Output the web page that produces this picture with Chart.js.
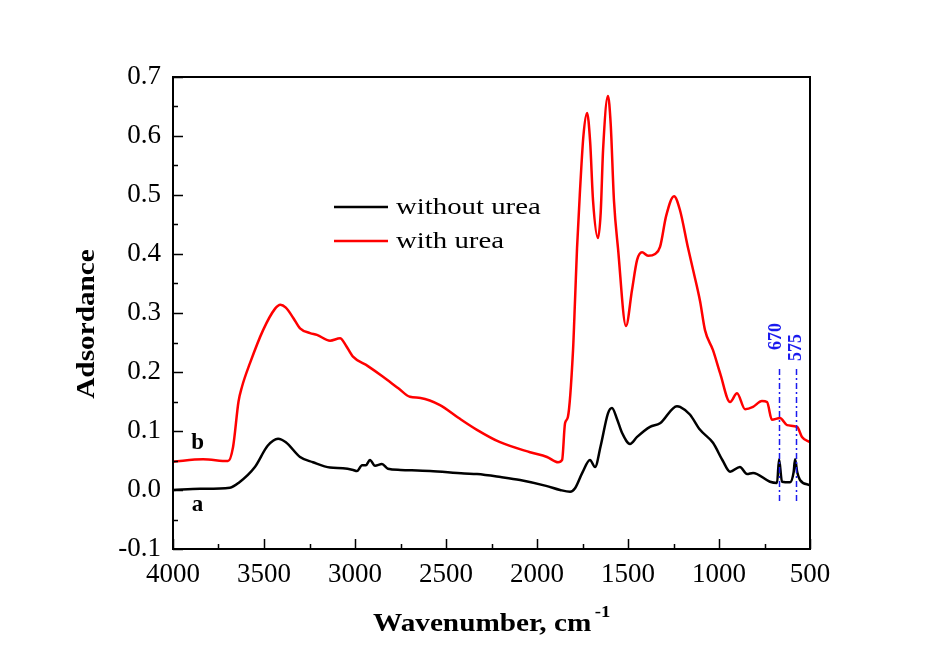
<!DOCTYPE html>
<html lang="en">
<head>
    <meta charset="UTF-8">
    <title>Adsordance vs Wavenumber</title>
    <script src="https://cdn.jsdelivr.net/npm/chart.js@4.4.1/dist/chart.umd.min.js"></script>
    <style>
        body {
            margin: 0;
            background-color: white;
        }
        canvas {
            display: block;
        }
    </style>
</head>
<body>
    <canvas id="irChart" width="926" height="652"></canvas>

    <script>
        // curve a: without urea
        const wnBlack = [4000, 3850, 3687, 3640, 3550, 3480, 3423, 3380, 3302, 3231, 3137, 3066, 3010, 2989, 2961, 2940, 2918, 2890, 2852, 2819, 2750, 2588, 2400, 2330, 2200, 2093, 1950, 1873, 1818, 1791, 1750, 1709, 1681, 1650, 1610, 1588, 1560, 1533, 1489, 1450, 1379, 1324, 1231, 1214, 1160, 1104, 1033, 980, 939, 885, 846, 813, 720, 681, 670, 654, 610, 590, 582, 570, 555, 500];
        const absBlack = [0.000, 0.002, 0.004, 0.012, 0.039, 0.075, 0.087, 0.081, 0.056, 0.047, 0.038, 0.037, 0.034, 0.032, 0.042, 0.042, 0.051, 0.041, 0.044, 0.036, 0.034, 0.032, 0.028, 0.027, 0.022, 0.017, 0.007, 0.000, -0.003, 0.003, 0.030, 0.051, 0.039, 0.075, 0.130, 0.139, 0.120, 0.097, 0.078, 0.090, 0.107, 0.113, 0.142, 0.141, 0.128, 0.102, 0.080, 0.050, 0.031, 0.039, 0.027, 0.029, 0.014, 0.012, 0.052, 0.014, 0.013, 0.030, 0.052, 0.030, 0.017, 0.008];

        // curve b: with urea
        const wnRed = [4000, 3835, 3698, 3670, 3640, 3621, 3577, 3505, 3440, 3410, 3380, 3340, 3302, 3247, 3209, 3137, 3082, 3050, 3011, 2929, 2846, 2760, 2698, 2640, 2533, 2430, 2330, 2203, 2038, 1945, 1884, 1862, 1846, 1830, 1802, 1791, 1780, 1765, 1745, 1725, 1708, 1692, 1665, 1650, 1637, 1610, 1595, 1577, 1555, 1511, 1478, 1450, 1423, 1390, 1351, 1324, 1290, 1247, 1215, 1170, 1140, 1104, 1077, 1033, 994, 939, 901, 857, 813, 764, 736, 709, 665, 626, 571, 544, 500];
        const absRed = [0.048, 0.052, 0.049, 0.073, 0.150, 0.175, 0.215, 0.271, 0.307, 0.314, 0.309, 0.292, 0.274, 0.266, 0.263, 0.253, 0.257, 0.245, 0.226, 0.210, 0.192, 0.172, 0.158, 0.156, 0.144, 0.122, 0.102, 0.081, 0.064, 0.056, 0.047, 0.051, 0.113, 0.124, 0.237, 0.322, 0.410, 0.500, 0.600, 0.639, 0.590, 0.490, 0.427, 0.470, 0.576, 0.668, 0.620, 0.490, 0.410, 0.278, 0.339, 0.390, 0.403, 0.397, 0.400, 0.412, 0.465, 0.498, 0.475, 0.410, 0.370, 0.320, 0.271, 0.237, 0.198, 0.149, 0.164, 0.137, 0.141, 0.151, 0.149, 0.119, 0.122, 0.110, 0.107, 0.090, 0.081];

        const seriesNames = ['without urea', 'with urea'];
        const seriesColors = ['#000000', '#ff0000'];

        const xTicks = [4000, 3500, 3000, 2500, 2000, 1500, 1000, 500];
        const yTicks = [-0.1, 0.0, 0.1, 0.2, 0.3, 0.4, 0.5, 0.6, 0.7];

        // marked peaks
        const peakWn = [670, 575];
        const peakLabels = ['670', '575'];
        const peakTop = 0.205;
        const peakBottom = -0.02;

        // curve letters
        const curveLetters = ['a', 'b'];
        const letterWn = [3865, 3865];
        const letterAbs = [-0.025, 0.080];

        const serif = "'Liberation Serif', 'DejaVu Serif', serif";
        const blue = '#1a1aee';

        function stretchText(ctx, text, x, y, sx) {
            ctx.save();
            ctx.translate(x, y);
            ctx.scale(sx, 1);
            ctx.fillText(text, 0, 0);
            ctx.restore();
        }

        const decorPlugin = {
            id: 'decor',
            afterDatasetsDraw(chart) {
                const ctx = chart.ctx;
                const xs = chart.scales.x;
                const ys = chart.scales.y;

                // dash-dot peak markers
                ctx.save();
                ctx.strokeStyle = blue;
                ctx.lineWidth = 1.5;
                ctx.setLineDash([6, 3, 2, 3]);
                peakWn.forEach(w => {
                    const px = Math.round(xs.getPixelForValue(w)) + 0.5;
                    ctx.beginPath();
                    ctx.moveTo(px, ys.getPixelForValue(peakTop));
                    ctx.lineTo(px, ys.getPixelForValue(peakBottom));
                    ctx.stroke();
                });
                ctx.setLineDash([]);
                ctx.fillStyle = blue;
                ctx.font = 'bold 18px ' + serif;
                ctx.textAlign = 'left';
                ctx.textBaseline = 'middle';
                peakWn.forEach((w, i) => {
                    const px = xs.getPixelForValue(w);
                    const bottom = ys.getPixelForValue(peakTop) - (i === 0 ? 19 : 8);
                    ctx.save();
                    ctx.translate(px - (i === 0 ? 3 : 0), bottom);
                    ctx.rotate(-Math.PI / 2);
                    ctx.fillText(peakLabels[i], 0, 0);
                    ctx.restore();
                });
                ctx.restore();
            },
            afterDraw(chart) {
                const ctx = chart.ctx;
                const area = chart.chartArea;
                const xs = chart.scales.x;
                const ys = chart.scales.y;

                ctx.save();
                // frame
                ctx.strokeStyle = '#000';
                ctx.lineWidth = 2;
                ctx.strokeRect(area.left, area.top, area.right - area.left, area.bottom - area.top);

                // inward ticks
                ctx.lineWidth = 1.5;
                ctx.beginPath();
                for (let w = 500; w <= 4000; w += 250) {
                    const px = Math.round(xs.getPixelForValue(w)) + 0.5;
                    const len = (w % 500 === 0) ? 10 : 5;
                    ctx.moveTo(px, area.bottom);
                    ctx.lineTo(px, area.bottom - len);
                }
                for (let k = -2; k <= 14; k++) {
                    const v = k * 0.05;
                    const py = Math.round(ys.getPixelForValue(v)) + 0.5;
                    const len = (k % 2 === 0) ? 10 : 5;
                    ctx.moveTo(area.left, py);
                    ctx.lineTo(area.left + len, py);
                }
                ctx.stroke();

                // axis titles
                ctx.fillStyle = '#000';
                ctx.font = 'bold 25px ' + serif;
                ctx.textBaseline = 'alphabetic';
                ctx.textAlign = 'left';
                const xTitle = 'Wavenumber, cm';
                ctx.save();
                ctx.translate(373, 631);
                ctx.scale(1.17, 1);
                ctx.fillText(xTitle, 0, 0);
                const tw = ctx.measureText(xTitle).width;
                ctx.font = 'bold 16px ' + serif;
                ctx.fillText('-1', tw + 3, -14);
                ctx.restore();

                ctx.font = 'bold 25px ' + serif;
                ctx.save();
                ctx.translate(94, 324);
                ctx.rotate(-Math.PI / 2);
                ctx.textAlign = 'center';
                ctx.scale(1.17, 1);
                ctx.fillText('Adsordance', 0, 0);
                ctx.restore();

                // legend
                ctx.font = '24px ' + serif;
                ctx.textBaseline = 'middle';
                ctx.textAlign = 'left';
                seriesNames.forEach((name, i) => {
                    const ly = 207 + i * 34;
                    ctx.strokeStyle = seriesColors[i];
                    ctx.lineWidth = 2.5;
                    ctx.beginPath();
                    ctx.moveTo(334, ly);
                    ctx.lineTo(388, ly);
                    ctx.stroke();
                    ctx.fillStyle = '#000';
                    stretchText(ctx, name, 396, ly + 1, 1.2);
                });

                // curve letters
                ctx.font = 'bold 23px ' + serif;
                ctx.textAlign = 'center';
                ctx.textBaseline = 'middle';
                curveLetters.forEach((t, i) => {
                    ctx.fillText(t, xs.getPixelForValue(letterWn[i]), ys.getPixelForValue(letterAbs[i]));
                });
                ctx.restore();
            }
        };

        const ctx = document.getElementById('irChart').getContext('2d');
        new Chart(ctx, {
            type: 'line',
            data: {
                datasets: [
                    {
                        label: seriesNames[0],
                        data: wnBlack.map((w, i) => ({ x: w, y: absBlack[i] })),
                        borderColor: seriesColors[0],
                        borderWidth: 2.5,
                        pointRadius: 0,
                        cubicInterpolationMode: 'monotone'
                    },
                    {
                        label: seriesNames[1],
                        data: wnRed.map((w, i) => ({ x: w, y: absRed[i] })),
                        borderColor: seriesColors[1],
                        borderWidth: 2.5,
                        pointRadius: 0,
                        cubicInterpolationMode: 'monotone'
                    }
                ]
            },
            options: {
                responsive: false,
                animation: false,
                devicePixelRatio: 1,
                layout: {
                    padding: { left: 0, right: 116, top: 77, bottom: 0 }
                },
                plugins: {
                    legend: { display: false },
                    tooltip: { enabled: false }
                },
                scales: {
                    x: {
                        type: 'linear',
                        reverse: true,
                        min: 500,
                        max: 4000,
                        afterBuildTicks: scale => {
                            scale.ticks = xTicks.map(v => ({ value: v }));
                        },
                        afterFit: scale => { scale.height = 103; },
                        grid: { display: false, drawTicks: false },
                        border: { display: false },
                        ticks: {
                            color: '#000',
                            padding: 10,
                            maxRotation: 0,
                            autoSkip: false,
                            font: { family: serif, size: 27 },
                            callback: v => String(v)
                        }
                    },
                    y: {
                        min: -0.1,
                        max: 0.7,
                        afterBuildTicks: scale => {
                            scale.ticks = yTicks.map(v => ({ value: v }));
                        },
                        afterFit: scale => { scale.width = 173; },
                        grid: { display: false, drawTicks: false },
                        border: { display: false },
                        ticks: {
                            color: '#000',
                            padding: 12,
                            autoSkip: false,
                            font: { family: serif, size: 27 },
                            callback: v => v.toFixed(1)
                        }
                    }
                }
            },
            plugins: [decorPlugin]
        });
    </script>
</body>
</html>
